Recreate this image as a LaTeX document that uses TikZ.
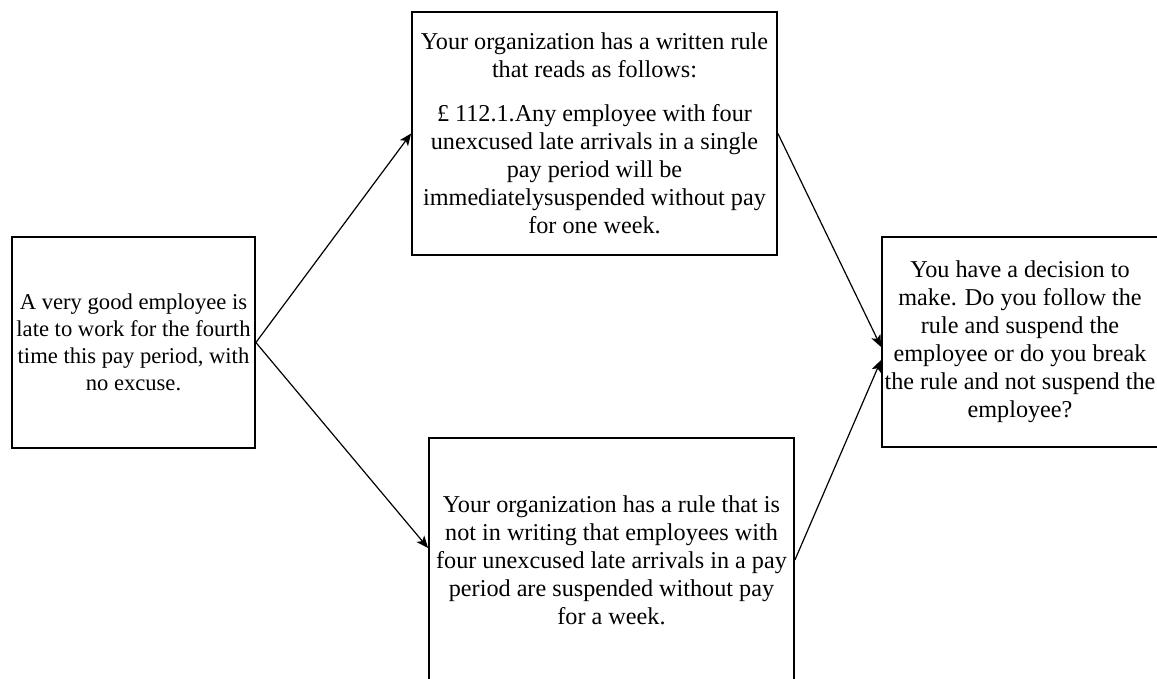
\documentclass[tikz,border=0pt]{standalone}
\usepackage{fontspec}
\setmainfont{Liberation Serif}
\usetikzlibrary{arrows.meta}
\begin{document}
\begin{tikzpicture}[x=0.5pt,y=-0.5pt,
  box/.style={draw, line width=0.9pt, rectangle, inner sep=0pt, align=center,
    font=\fontsize{12.1}{14}\selectfont},
  conn/.style={line width=0.6pt, -{Stealth[length=6pt,width=5pt,inset=1.5pt]}}]
\useasboundingbox (0,0) rectangle (1157,679);
\clip (0,0) rectangle (1157,679);
\node[box, font=\fontsize{11.3}{13.5}\selectfont, minimum width=121.5pt, minimum height=105.5pt] (A) at (133.5,342.5)
  {A very good employee is\\ late to work for the fourth\\ time this pay period, with\\ no excuse.};
\node[box, minimum width=182.5pt, minimum height=121.5pt] (B) at (594.5,133.5)
  {Your organization has a written rule\\ that reads as follows:\\[8pt]
   \pounds\ 112.1.Any employee with four\\ unexcused late arrivals in a single\\ pay period will be\\ immediatelysuspended without pay\\ for one week.};
\node[box, minimum width=182.5pt, minimum height=122pt] (C) at (611.5,560)
  {Your organization has a rule that is\\ not in writing that employees with\\ four unexcused late arrivals in a pay\\ period are suspended without pay\\ for a week.};
\node[box, minimum width=138pt, minimum height=105pt] (D) at (1020,342)
  {You have a decision to\\ make. Do you follow the\\ rule and suspend the\\ employee or do you break\\ the rule and not suspend the\\ employee?};
\draw[conn] (A.east) -- (B.west);
\draw[conn] (A.east) -- ([yshift=6pt]C.west);
\draw[conn] (B.east) -- ([yshift=-2.5pt]D.west);
\draw[conn] (C.east) -- ([yshift=-9pt]D.west);
\end{tikzpicture}
\end{document}
